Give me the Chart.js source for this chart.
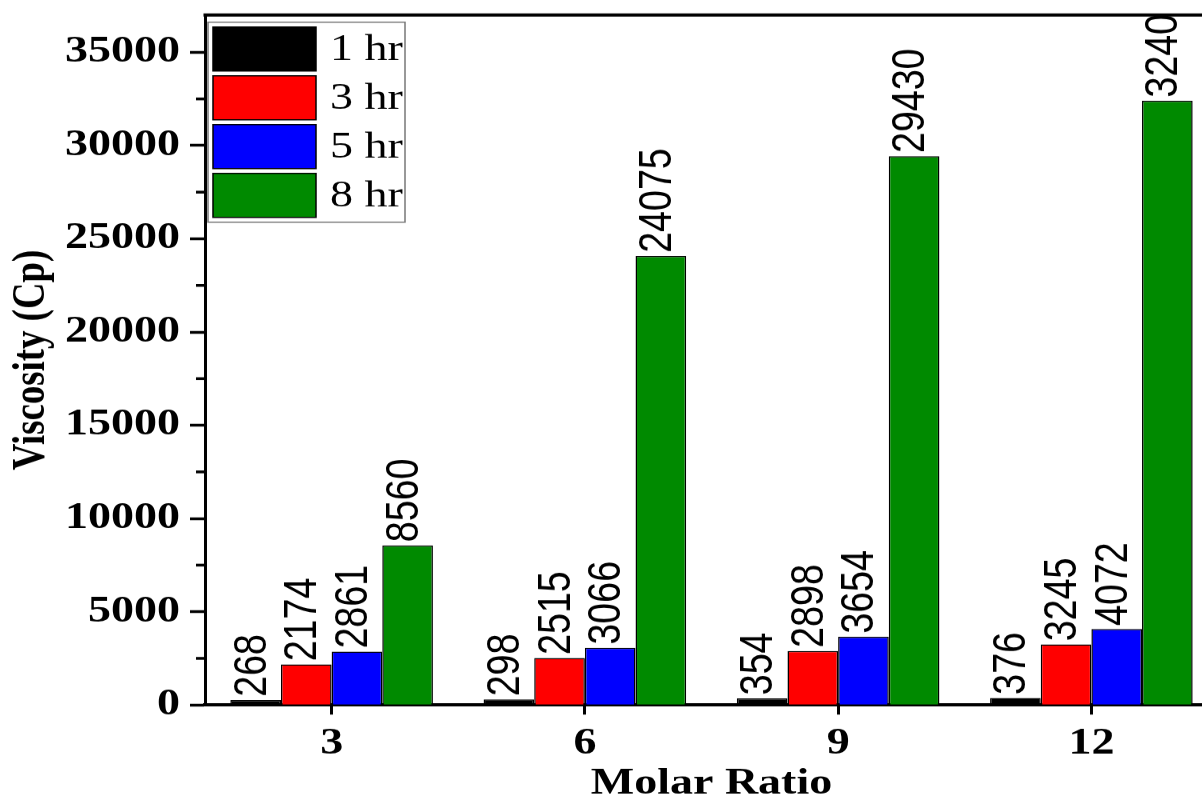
<!DOCTYPE html>
<html lang="en">
<head>
  <meta charset="UTF-8">
  <title>Viscosity vs Molar Ratio</title>
  <script src="https://cdn.jsdelivr.net/npm/chart.js@4.4.1/dist/chart.umd.min.js"></script>
  <style>
    html, body { margin: 0; padding: 0; background: #fff; overflow: hidden; }
    /* the source figure is squashed vertically, so draw tall and squeeze */
    #wrap { width: 1220px; height: 999px; transform: scaleY(0.8); transform-origin: 0 0; }
  </style>
</head>
<body>
  <div id="wrap">
    <canvas id="chart" width="1220" height="999"></canvas>
  </div>

  <script>
    // Data
    const categories = ['3', '6', '9', '12'];
    const seriesNames = ['1 hr', '3 hr', '5 hr', '8 hr'];
    const oneHr = [268, 298, 354, 376];
    const threeHr = [2174, 2515, 2898, 3245];
    const fiveHr = [2861, 3066, 3654, 4072];
    const eightHr = [8560, 24075, 29430, 32400];
    const yTickValues = [0, 5000, 10000, 15000, 20000, 25000, 30000, 35000];
    const seriesColors = ['#000000', '#ff0000', '#0000ff', '#008a00'];

    const serifBold = { family: 'Liberation Serif', weight: 'bold', size: 46 };

    // value labels, rotated, clipped to the plot box
    const valueLabels = {
      id: 'valueLabels',
      afterDatasetsDraw(chart) {
        const { ctx, chartArea } = chart;
        ctx.save();
        ctx.beginPath();
        ctx.rect(chartArea.left, chartArea.top, chartArea.right - chartArea.left, chartArea.bottom - chartArea.top);
        ctx.clip();
        ctx.font = '47px "Liberation Sans"';
        ctx.fillStyle = '#000';
        ctx.textAlign = 'left';
        ctx.textBaseline = 'middle';
        chart.data.datasets.forEach((ds, i) => {
          chart.getDatasetMeta(i).data.forEach((bar, j) => {
            ctx.save();
            ctx.translate(bar.x - 3, bar.y - 4);
            ctx.rotate(-Math.PI / 2);
            ctx.fillText(String(ds.data[j]), 0, 0);
            ctx.restore();
          });
        });
        ctx.restore();
      }
    };

    // top frame line, minor y ticks and the boxed legend
    const decorations = {
      id: 'decorations',
      afterDraw(chart) {
        const { ctx, chartArea } = chart;
        const y = chart.scales.y;
        ctx.save();
        ctx.strokeStyle = '#000';
        ctx.lineWidth = 4;
        ctx.beginPath();
        ctx.moveTo(chartArea.left - 1.5, chartArea.top);
        ctx.lineTo(chartArea.right, chartArea.top);
        ctx.stroke();

        // minor ticks halfway between the major ones
        ctx.lineWidth = 3.5;
        for (let k = 0; k < yTickValues.length; k++) {
          const v = yTickValues[k] + 2500;
          if (v > y.max) break;
          const py = y.getPixelForValue(v);
          ctx.beginPath();
          ctx.moveTo(chartArea.left - 9, py);
          ctx.lineTo(chartArea.left, py);
          ctx.stroke();
        }

        // legend
        const lx = chartArea.left + 3, ly = chartArea.top + 9;
        ctx.lineWidth = 1.5;
        ctx.strokeStyle = '#777';
        ctx.strokeRect(lx, ly, 197, 250);
        ctx.font = '46px "Liberation Serif"';
        ctx.textBaseline = 'middle';
        ctx.textAlign = 'left';
        chart.data.datasets.forEach((ds, i) => {
          const top = ly + 6 + i * 61;
          ctx.fillStyle = ds.backgroundColor;
          ctx.fillRect(lx + 5, top, 103, 55);
          ctx.strokeStyle = '#000';
          ctx.lineWidth = 1.5;
          ctx.strokeRect(lx + 5, top, 103, 55);
          ctx.fillStyle = '#000';
          ctx.fillText(ds.label, lx + 122, top + 29);
        });
        ctx.restore();
      }
    };

    const seriesData = [oneHr, threeHr, fiveHr, eightHr];

    new Chart(document.getElementById('chart'), {
      type: 'bar',
      data: {
        labels: categories,
        datasets: seriesNames.map((name, i) => ({
          label: name,
          data: seriesData[i],
          backgroundColor: seriesColors[i],
          borderColor: '#000',
          borderWidth: 1.5,
          categoryPercentage: 0.8,
          barPercentage: 1.0
        }))
      },
      options: {
        responsive: false,
        animation: false,
        layout: { padding: { left: 0, top: 18.75, right: 2, bottom: 0 } },
        plugins: { legend: { display: false }, tooltip: { enabled: false } },
        scales: {
          x: {
            offset: true,
            afterFit: s => { s.height = 117.75; s.paddingLeft = 0; s.paddingRight = 0; },
            border: { color: '#000', width: 4 },
            grid: { drawOnChartArea: false, offset: false, tickLength: 12, tickWidth: 3, tickColor: '#000' },
            ticks: { font: serifBold, color: '#000', padding: 9 },
            title: {
              display: true, text: 'Molar Ratio', color: '#000',
              font: { family: 'Liberation Serif', weight: 'bold', size: 46, lineHeight: 0.8 },
              padding: { top: 0, bottom: 0 }
            }
          },
          y: {
            min: 0,
            max: 37000,
            afterBuildTicks: s => { s.ticks = yTickValues.map(v => ({ value: v })); },
            afterFit: s => { s.width = 205; s.paddingTop = 0; s.paddingBottom = 0; },
            border: { color: '#000', width: 3 },
            grid: { drawOnChartArea: false, tickLength: 15, tickWidth: 3.5, tickColor: '#000' },
            ticks: { font: serifBold, color: '#000', padding: 10, callback: v => String(v) },
            title: {
              display: true, text: 'Viscosity (Cp)', color: '#000',
              font: { family: 'Liberation Serif', weight: 'bold', size: 46 },
              padding: { top: 5, bottom: 0 }
            }
          }
        }
      },
      plugins: [valueLabels, decorations]
    });
  </script>
</body>
</html>
